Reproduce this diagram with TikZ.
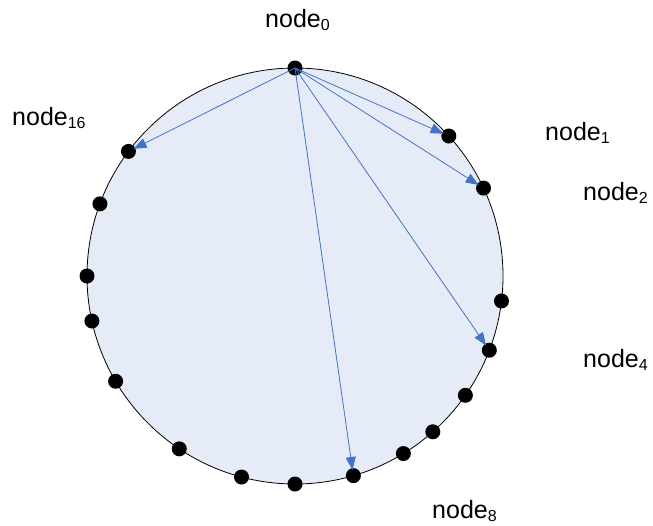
\documentclass[tikz,border=0pt]{standalone}
\usepackage{fontspec}
\setmainfont{Liberation Sans}
\usetikzlibrary{arrows.meta,calc}
\definecolor{ringfill}{RGB}{230,236,247}
\definecolor{linkblue}{RGB}{68,114,196}
\newcommand{\nodelabel}[1]{node\raisebox{-3.5pt}{\fontsize{16}{16}\selectfont #1}}
\begin{document}
\begin{tikzpicture}[x=1pt,y=-1pt,
  dot/.style={circle,fill=black,inner sep=0pt,minimum size=15pt},
  lbl/.style={anchor=base west,inner sep=0pt,font=\fontsize{25}{25}\selectfont},
  link/.style={draw=linkblue,line width=0.8pt,shorten >=-2pt,-{Triangle[length=13pt,width=10pt]}}]
\useasboundingbox (0,0) rectangle (653,525);
\coordinate (c) at (295,276);
% the ring
\draw[fill=ringfill,line width=0.8pt] (c) circle[radius=208pt];
% peers on the ring
\foreach \name/\ang in {n0/90,n1/42.3,n2/25,p3/-6.9,n4/-20.9,p5/-35,p6/-48.5,p7/-58.6,
  n8/-73.7,p9/-90,p10/-104.9,p11/-123.8,p12/-149.6,p13/-167.5,p14/180,p15/159.7,n16/143.2}
  \node[dot] (\name) at ($(c)+(\ang:208pt)$) {};
% finger links from node 0
\foreach \t in {n1,n2,n4,n8,n16}
  \draw[link] (n0.center) -- (\t);
% labels
\node[lbl] (l0) at (265,27) {\nodelabel{0}};
\node[lbl] (l1) at (545,140) {\nodelabel{1}};
\node[lbl] (l2) at (583,200) {\nodelabel{2}};
\node[lbl] (l4) at (583,367) {\nodelabel{4}};
\node[lbl] (l8) at (432,518) {\nodelabel{8}};
\node[lbl] (l16) at (12,125) {\nodelabel{16}};
\end{tikzpicture}
\end{document}
